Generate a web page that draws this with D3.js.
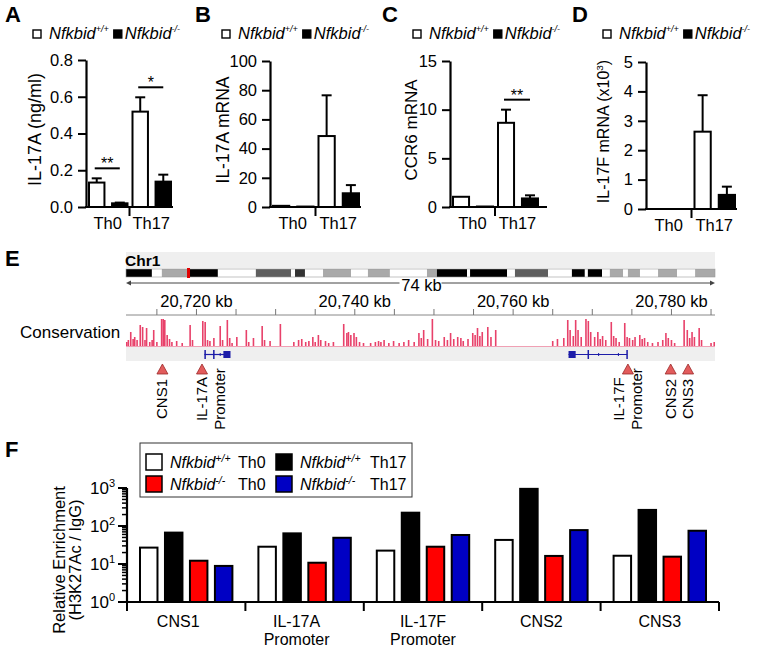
<!DOCTYPE html>
<html><head><meta charset="utf-8">
<script src="https://cdn.jsdelivr.net/npm/d3@7"></script>
<style>
body{margin:0;background:#fff;}
svg text{font-family:"Liberation Sans",Arial,Helvetica,sans-serif;fill:#000;}
</style></head><body>
<svg id="c" width="761" height="650"></svg>
<script>
// ================= DATA =================
const groups = ["Th0", "Th17"];
const genotypes = ["+/+", "-/-"];

// Panel A: IL-17A protein (ng/ml)
const aWT = [0.133, 0.519], aWTErr = [0.156, 0.597];
const aKO = [0.020, 0.138], aKOErr = [0.024, 0.176];
const aSig = ["**", "*"];
const aTicks = [0, 0.2, 0.4, 0.6, 0.8];
// Panel B: IL-17A mRNA
const bWT = [0.8, 48.6], bWTErr = [0.8, 76.5];
const bKO = [0.3, 9.4], bKOErr = [0.3, 15.0];
const bSig = ["", ""];
const bTicks = [0, 20, 40, 60, 80, 100];
// Panel C: CCR6 mRNA
const cWT = [1.05, 8.65], cWTErr = [1.05, 10.0];
const cKO = [0.05, 0.88], cKOErr = [0.05, 1.2];
const cSig = ["", "**"];
const cTicks = [0, 5, 10, 15];
// Panel D: IL-17F mRNA (x10^3)
const dWT = [0, 2.63], dWTErr = [0, 3.87];
const dKO = [0, 0.48], dKOErr = [0, 0.76];
const dSig = ["", ""];
const dTicks = [0, 1, 2, 3, 4, 5];

// Panel E: chromosome 1 ideogram (Mb) and locus track (kb)
const chrLenMb = 195.5;
const bandStartMb = [0, 8.6, 11.9, 20.9, 30.5, 43.1, 54.8, 56.1, 59.4, 65.4, 74.7, 80.3, 87.6, 99.9, 103.2, 113.2, 114.2, 126.5, 129.1, 140.1, 148.0, 152.3, 153.3, 158.0, 160.6, 165.0, 166.6, 170.6, 176.6, 182.9, 188.9];
const bandStain = ["g100","n","g50","g100","n","g75","n","g90","n","g50","n","g50","n","g50","g100","n","g100","n","g75","n","g100","n","g100","n","g50","n","g50","n","g50","n","g50"];
const regionMb = [20.71, 20.79];
const locusKb = [20711.1, 20785.5];
const rulerLabelsKb = [20720, 20740, 20760, 20780];
const consKb = [20711.2,20711.4,20711.7,20712.0,20712.2,20712.5,20712.9,20713.2,20713.5,20713.7,20714.1,20714.4,20714.6,20715.0,20715.6,20715.8,20716.0,20716.3,20716.6,20716.9,20717.5,20718.2,20719.2,20719.5,20720.8,20721.1,20721.4,20721.7,20722.2,20723.0,20723.3,20723.9,20724.2,20724.5,20725.1,20726.3,20726.6,20727.2,20728.3,20728.6,20729.3,20730.6,20732.3,20732.9,20733.3,20733.8,20734.2,20734.7,20735.0,20735.4,20735.7,20736.3,20736.7,20737.3,20738.6,20739.0,20739.2,20739.5,20739.9,20740.2,20740.6,20741.1,20742.0,20742.6,20743.0,20743.3,20743.7,20744.3,20744.9,20745.6,20746.2,20746.8,20747.5,20748.1,20748.4,20748.7,20749.2,20749.8,20750.2,20750.6,20751.3,20751.7,20752.1,20752.5,20753.0,20753.4,20753.7,20754.3,20754.9,20755.2,20755.5,20755.8,20756.1,20756.8,20757.2,20757.8,20765.0,20765.6,20766.4,20766.9,20767.2,20767.6,20767.9,20768.2,20768.6,20769.2,20769.5,20769.8,20770.3,20770.7,20771.0,20771.3,20771.7,20772.4,20772.7,20773.0,20773.4,20774.1,20774.4,20774.7,20775.1,20775.4,20776.0,20776.3,20776.6,20777.0,20777.6,20778.3,20778.9,20779.3,20779.6,20780.0,20780.4,20781.6,20782.0,20782.3,20782.6,20782.9,20783.5,20783.8,20785.0,20785.4];
const consScore = [4,6,14,7,9,6,21,19,6,18,4,6,16,4,27,27,26,11,7,4,5,3,21,6,25,24,6,5,8,20,6,26,8,3,9,16,4,8,20,6,5,22,4,6,7,4,5,9,4,11,6,5,3,4,22,13,14,11,13,9,4,3,3,4,5,4,6,3,5,3,4,6,4,13,8,16,7,27,6,5,9,6,13,7,9,8,5,7,13,11,18,10,14,19,9,16,5,7,8,26,16,10,26,16,9,27,25,14,9,14,7,10,6,24,10,8,4,23,9,8,6,9,11,7,8,4,3,4,6,13,8,6,3,26,16,8,14,9,18,6,3,4];
const consMax = 28;
const geneNames = ["Il17a", "Il17f"];
const geneSpanKb = [[20721.0, 20724.2], [20767.0, 20774.4]];
const geneExonsKb = [
  [[20721.0, 20721.15], [20722.1, 20722.25], [20723.4, 20724.3]],
  [[20767.0, 20767.9], [20769.4, 20769.55], [20774.3, 20774.45]]
];
const geneChevronKb = [[20723.0], [20770.8, 20773.3]];
const siteKb = [20715.7, 20720.7, 20774.5, 20779.9, 20782.1];
const siteLabels = [["CNS1"], ["IL-17A", "Promoter"], ["IL-17F", "Promoter"], ["CNS2"], ["CNS3"]];

// Panel F: H3K27Ac ChIP relative enrichment
const fCats = [["CNS1"], ["IL-17A", "Promoter"], ["IL-17F", "Promoter"], ["CNS2"], ["CNS3"]];
const fSeries = ["WT Th0", "WT Th17", "KO Th0", "KO Th17"];
const fWTTh0  = [27, 28.5, 22.5, 43, 16.5];
const fWTTh17 = [67, 64, 224, 950, 265];
const fKOTh0  = [12.2, 10.8, 28.5, 16.3, 15.6];
const fKOTh17 = [8.9, 49, 58, 78, 75];
const fColors = ["#ffffff", "#000000", "#ff0000", "#0000c4"];
const fLegendGeno = ["+/+", "+/+", "-/-", "-/-"];
const fLegendCell = ["Th0", "Th17", "Th0", "Th17"];

// ================= DRAW =================
const svg = d3.select("#c");

function letter(t, x, y) {
  svg.append("text").attr("x", x).attr("y", y).attr("font-size", 22)
    .attr("font-weight", "bold").text(t);
}

function genoText(sel, x, y, geno, fs, supFs) {
  const t = sel.append("text").attr("x", x).attr("y", y).attr("font-size", fs).attr("font-style", "italic");
  t.append("tspan").text("Nfkbid");
  t.append("tspan").attr("font-size", supFs).attr("dy", -fs * 0.38).text(geno);
  return t;
}

function smallPanel(o) {
  letter(o.letter, o.lx, 22);
  const g = svg.append("g");
  g.append("rect").attr("x", o.legX).attr("y", 30).attr("width", 8).attr("height", 8)
    .attr("fill", "#fff").attr("stroke", "#000").attr("stroke-width", 1.4);
  const t1 = genoText(g, o.legX + 16, 38.5, "+/+", 16.5, 9);
  const w1 = t1.node().getComputedTextLength();
  const bx = o.legX + 16 + w1 + 5;
  g.append("rect").attr("x", bx).attr("y", 30).attr("width", 8).attr("height", 8)
    .attr("fill", "#000").attr("stroke", "#000").attr("stroke-width", 1.4);
  genoText(g, bx + 11, 38.5, "-/-", 16.5, 9);

  const y = d3.scaleLinear().domain([0, o.max]).range([o.yBot, o.yTop]);
  const x0 = d3.scaleBand().domain(groups).range([o.x0, o.x1]);
  const x1 = d3.scaleBand().domain(genotypes).range([3, x0.bandwidth() - 2]).paddingInner(0.33);

  const rows = groups.map((gr, i) => ({
    g: gr, sig: o.sig[i],
    bars: [{k: "+/+", v: o.wt[i], e: o.wtErr[i], fill: "#fff"},
           {k: "-/-", v: o.ko[i], e: o.koErr[i], fill: "#000"}]
  }));
  const gg = g.selectAll("g.grp").data(rows).join("g").attr("transform", d => `translate(${x0(d.g)},0)`);
  gg.selectAll("rect").data(d => d.bars).join("rect")
    .attr("x", d => x1(d.k)).attr("width", x1.bandwidth())
    .attr("y", d => y(d.v)).attr("height", d => o.yBot - y(d.v))
    .attr("fill", d => d.fill).attr("stroke", "#000").attr("stroke-width", 2);
  gg.each(function(d) {
    const s = d3.select(this);
    d.bars.forEach(b => {
      if (b.e > b.v) {
        const cx = x1(b.k) + x1.bandwidth() / 2;
        s.append("line").attr("x1", cx).attr("x2", cx).attr("y1", y(b.v)).attr("y2", y(b.e))
          .attr("stroke", "#000").attr("stroke-width", 2);
        s.append("line").attr("x1", cx - 5).attr("x2", cx + 5).attr("y1", y(b.e)).attr("y2", y(b.e))
          .attr("stroke", "#000").attr("stroke-width", 2);
      }
    });
    if (d.sig) {
      const ly = y(d3.max(d.bars, b => b.e)) - 10;
      const xa = x1("+/+") + x1.bandwidth() / 2 - 2, xb = x1("-/-") + x1.bandwidth() / 2;
      s.append("line").attr("x1", xa).attr("x2", xb).attr("y1", ly).attr("y2", ly)
        .attr("stroke", "#000").attr("stroke-width", 2);
      s.append("text").attr("x", (xa + xb) / 2).attr("y", ly + 1).attr("text-anchor", "middle")
        .attr("font-size", 16).text(d.sig);
    }
  });
  const ya = g.append("g").attr("transform", `translate(${o.x0},0)`)
    .call(d3.axisLeft(y).tickValues(o.ticks).tickFormat(o.fmt).tickSize(8).tickSizeOuter(0).tickPadding(5));
  ya.select(".domain").attr("stroke-width", 2.2);
  ya.selectAll(".tick line").attr("stroke-width", 2);
  ya.selectAll(".tick text").attr("font-size", 16.5).attr("font-family", null);
  g.append("line").attr("x1", o.x0 - 1).attr("x2", o.axEnd).attr("y1", o.yBot).attr("y2", o.yBot)
    .attr("stroke", "#000").attr("stroke-width", 2.2);
  g.append("line").attr("x1", x0("Th17")).attr("x2", x0("Th17")).attr("y1", o.yBot).attr("y2", o.yBot + 9)
    .attr("stroke", "#000").attr("stroke-width", 2);
  g.selectAll("text.xl").data(groups).join("text").attr("class", "xl")
    .attr("x", d => x0(d) + x0.bandwidth() / 2).attr("y", o.yBot + 22)
    .attr("text-anchor", "middle").attr("font-size", 16.5).text(d => d);
  const yl = g.append("text").attr("transform", `translate(${o.ylabX},${(o.yTop + o.yBot) / 2 - 4}) rotate(-90)`)
    .attr("text-anchor", "middle").attr("font-size", o.ylabFs);
  yl.append("tspan").text(o.ylab);
  if (o.ylabSup) {
    yl.append("tspan").attr("font-size", o.ylabFs * 0.62).attr("dy", -o.ylabFs * 0.4).text(o.ylabSup);
    yl.append("tspan").attr("dy", o.ylabFs * 0.4).text(")");
  }
}

smallPanel({letter: "A", lx: 5, wt: aWT, wtErr: aWTErr, ko: aKO, koErr: aKOErr, sig: aSig, ticks: aTicks,
  fmt: d3.format(".1f"), max: 0.8, x0: 86, x1: 173, axEnd: 173, yTop: 60, yBot: 207, legX: 33,
  ylab: "IL-17A (ng/ml)", ylabX: 41, ylabFs: 18});
smallPanel({letter: "B", lx: 195, wt: bWT, wtErr: bWTErr, ko: bKO, koErr: bKOErr, sig: bSig, ticks: bTicks,
  fmt: d3.format("d"), max: 100, x0: 270, x1: 361, axEnd: 361, yTop: 61, yBot: 207, legX: 222,
  ylab: "IL-17A mRNA", ylabX: 229, ylabFs: 17.5});
smallPanel({letter: "C", lx: 382, wt: cWT, wtErr: cWTErr, ko: cKO, koErr: cKOErr, sig: cSig, ticks: cTicks,
  fmt: d3.format("d"), max: 15, x0: 450, x1: 540, axEnd: 547, yTop: 61, yBot: 207, legX: 413,
  ylab: "CCR6 mRNA", ylabX: 417, ylabFs: 17});
smallPanel({letter: "D", lx: 572, wt: dWT, wtErr: dWTErr, ko: dKO, koErr: dKOErr, sig: dSig, ticks: dTicks,
  fmt: d3.format("d"), max: 5, x0: 646, x1: 737, axEnd: 737, yTop: 62, yBot: 209, legX: 603,
  ylab: "IL-17F mRNA (x10", ylabSup: "3", ylabX: 609, ylabFs: 16});

// ---------- Panel E ----------
letter("E", 5, 266);
const E = svg.append("g");
const eL = 126, eR = 715;
E.append("rect").attr("x", eL).attr("y", 252).attr("width", eR - eL).attr("height", 16).attr("fill", "#efefef");
E.append("text").attr("x", 125).attr("y", 266).attr("font-size", 15.5).attr("font-weight", "bold").text("Chr1");
const xMb = d3.scaleLinear().domain([0, chrLenMb]).range([eL, eR]);
const stainColor = {g100: "#000", g90: "#333", g75: "#5e5e5e", g50: "#a9a9a9", n: "#fff"};
const bands = bandStartMb.map((s, i) => ({s, e: i < bandStartMb.length - 1 ? bandStartMb[i + 1] : chrLenMb, st: bandStain[i]}));
E.selectAll("rect.band").data(bands).join("rect").attr("class", "band")
  .attr("x", d => xMb(d.s)).attr("width", d => xMb(d.e) - xMb(d.s))
  .attr("y", 269).attr("height", 8).attr("fill", d => stainColor[d.st]);
E.append("rect").attr("x", eL).attr("y", 269).attr("width", eR - eL).attr("height", 8)
  .attr("fill", "none").attr("stroke", "#999").attr("stroke-width", 0.6);
const rm = (xMb(regionMb[0]) + xMb(regionMb[1])) / 2;
E.append("rect").attr("x", rm - 1.5).attr("width", 3).attr("y", 268).attr("height", 10).attr("fill", "#e00000");

const xKb = d3.scaleLinear().domain(locusKb).range([eL, eR]);
const ry = 283;
E.append("line").attr("x1", eL + 2).attr("x2", eR - 2).attr("y1", ry).attr("y2", ry).attr("stroke", "#444").attr("stroke-width", 1);
E.append("path").attr("d", `M${eL},${ry} l5,-2.5 v5 z`).attr("fill", "#444");
E.append("path").attr("d", `M${eR},${ry} l-5,-2.5 v5 z`).attr("fill", "#444");
const spanTxt = Math.floor(locusKb[1] - locusKb[0]) + " kb";
const mid = (eL + eR) / 2;
E.append("rect").attr("x", mid - 21).attr("y", ry - 3).attr("width", 42).attr("height", 6).attr("fill", "#fff");
E.append("text").attr("x", mid + 1).attr("y", ry + 8).attr("text-anchor", "middle").attr("font-size", 16.5).text(spanTxt);
const tickKb = d3.range(20715, locusKb[1], 5);
E.append("line").attr("x1", eL).attr("x2", eR).attr("y1", 315).attr("y2", 315).attr("stroke", "#888").attr("stroke-width", 1);
E.selectAll("line.rt").data(tickKb).join("line").attr("class", "rt")
  .attr("x1", d => xKb(d)).attr("x2", d => xKb(d)).attr("y1", 315).attr("y2", 309)
  .attr("stroke", "#777").attr("stroke-width", 1);
E.selectAll("text.rl").data(rulerLabelsKb).join("text").attr("class", "rl")
  .attr("x", d => xKb(d)).attr("y", 307).attr("text-anchor", "middle").attr("font-size", 16.5)
  .text(d => d3.format(",")(d) + " kb");

E.append("text").attr("x", 20).attr("y", 338).attr("font-size", 17).text("Conservation");
const cBase = 346;
const yCons = d3.scaleLinear().domain([0, consMax]).range([0, 28]);
E.append("line").attr("x1", eL).attr("x2", eR).attr("y1", cBase + 0.5).attr("y2", cBase + 0.5).attr("stroke", "#f0a0b4").attr("stroke-width", 1);
E.selectAll("rect.cons").data(consKb.map((k, i) => ({k, s: consScore[i]}))).join("rect").attr("class", "cons")
  .attr("x", d => xKb(d.k) - 0.8).attr("width", 1.6)
  .attr("y", d => cBase - yCons(d.s)).attr("height", d => yCons(d.s)).attr("fill", "#e8416a");

E.append("rect").attr("x", eL).attr("y", 347).attr("width", eR - eL).attr("height", 14).attr("fill", "#efefef");
const gy = 354.5, geneCol = "#1c1ca8";
geneNames.forEach((n, i) => {
  E.append("line").attr("x1", xKb(geneSpanKb[i][0])).attr("x2", xKb(geneSpanKb[i][1])).attr("y1", gy).attr("y2", gy)
    .attr("stroke", geneCol).attr("stroke-width", 1.2);
  geneExonsKb[i].forEach(ex => {
    const w = Math.max(1.5, xKb(ex[1]) - xKb(ex[0]));
    const h = w > 3 ? 7 : 9;
    E.append("rect").attr("x", xKb(ex[0])).attr("width", w).attr("y", gy - h / 2).attr("height", h).attr("fill", geneCol);
  });
  geneChevronKb[i].forEach(c => {
    E.append("line").attr("x1", xKb(c)).attr("x2", xKb(c)).attr("y1", gy - 1.5).attr("y2", gy + 1.5)
      .attr("stroke", geneCol).attr("stroke-width", 1);
  });
});

siteKb.forEach((k, i) => {
  const x = xKb(k);
  E.append("path").attr("d", `M${x},364 L${x + 5.5},374 L${x - 5.5},374 Z`)
    .attr("fill", "#e25c5c").attr("stroke", "#9a2a2a").attr("stroke-width", 0.8);
  const lines = siteLabels[i];
  const offs = lines.length === 1 ? [0] : (i === 1 ? [0, 18] : [-9, 9]);
  lines.forEach((ln, j) => {
    E.append("text").attr("transform", `translate(${x + offs[j] + 5},399) rotate(-90)`)
      .attr("text-anchor", "middle").attr("font-size", 15).text(ln);
  });
});

// ---------- Panel F ----------
letter("F", 5, 457);
const F = svg.append("g");
const fx0 = 127, fx1 = 719, fyTop = 488, fyBot = 602;
const yF = d3.scaleLog().domain([1, 1000]).range([fyBot, fyTop]);
const xF = d3.scaleBand().domain(d3.range(fCats.length)).range([fx0, fx1]);
const xFi = d3.scaleBand().domain(fSeries).range([13, xF.bandwidth() - 13]).paddingInner(0.3);
const fVals = [fWTTh0, fWTTh17, fKOTh0, fKOTh17];
const fRows = fCats.map((c, i) => ({i, bars: fSeries.map((s, j) => ({s, v: fVals[j][i], col: fColors[j]}))}));
const fg = F.selectAll("g.fg").data(fRows).join("g").attr("transform", d => `translate(${xF(d.i)},0)`);
fg.selectAll("rect").data(d => d.bars).join("rect")
  .attr("x", d => xFi(d.s)).attr("width", xFi.bandwidth())
  .attr("y", d => yF(d.v)).attr("height", d => fyBot - yF(d.v))
  .attr("fill", d => d.col).attr("stroke", "#000").attr("stroke-width", 2);
F.append("line").attr("x1", fx0).attr("x2", fx0).attr("y1", fyTop).attr("y2", fyBot + 1).attr("stroke", "#000").attr("stroke-width", 2.2);
const minor = [];
[1, 10, 100].forEach(dec => d3.range(2, 10).forEach(m => minor.push(dec * m)));
F.selectAll("line.mn").data(minor).join("line").attr("class", "mn")
  .attr("x1", fx0 - 5).attr("x2", fx0).attr("y1", d => yF(d)).attr("y2", d => yF(d))
  .attr("stroke", "#000").attr("stroke-width", 1.5);
const major = [1, 10, 100, 1000];
F.selectAll("line.mj").data(major).join("line").attr("class", "mj")
  .attr("x1", fx0 - 9).attr("x2", fx0).attr("y1", d => yF(d)).attr("y2", d => yF(d))
  .attr("stroke", "#000").attr("stroke-width", 2);
major.forEach(v => {
  const t = F.append("text").attr("x", fx0 - 12).attr("y", yF(v) + 6).attr("text-anchor", "end").attr("font-size", 17);
  t.append("tspan").text("10");
  t.append("tspan").attr("font-size", 11).attr("dy", -7).text(String(Math.round(Math.log10(v))));
});
F.append("line").attr("x1", fx0 - 1).attr("x2", fx1).attr("y1", fyBot).attr("y2", fyBot).attr("stroke", "#000").attr("stroke-width", 2.2);
const bounds = d3.range(fCats.length).map(i => xF(i)).concat([fx1]);
F.selectAll("line.xt").data(bounds).join("line").attr("class", "xt")
  .attr("x1", d => d).attr("x2", d => d).attr("y1", fyBot).attr("y2", fyBot + 9)
  .attr("stroke", "#000").attr("stroke-width", 2);
fCats.forEach((lines, i) => {
  lines.forEach((ln, j) => {
    F.append("text").attr("x", xF(i) + xF.bandwidth() / 2 - (i < 2 ? 8 : 0)).attr("y", 627 + j * 18)
      .attr("text-anchor", "middle").attr("font-size", 16).text(ln);
  });
});
const fyl = F.append("g").attr("transform", `translate(0,${560}) rotate(-90)`);
fyl.append("text").attr("x", 0).attr("y", 65).attr("text-anchor", "middle").attr("font-size", 16.5).text("Relative Enrichment");
fyl.append("text").attr("x", 0).attr("y", 81).attr("text-anchor", "middle").attr("font-size", 16.5).text("(H3K27Ac / IgG)");
F.append("rect").attr("x", 140).attr("y", 443).attr("width", 272).attr("height", 54)
  .attr("fill", "#fff").attr("stroke", "#333").attr("stroke-width", 1);
fSeries.forEach((s, j) => {
  const col = j % 2, row = Math.floor(j / 2);
  const lx = 146 + col * 130, ly = 454 + row * 22;
  F.append("rect").attr("x", lx).attr("y", ly).attr("width", 16).attr("height", 16)
    .attr("fill", fColors[j]).attr("stroke", "#000").attr("stroke-width", 1.5);
  genoText(F, lx + 24, ly + 14, fLegendGeno[j], 16, 10.5);
  F.append("text").attr("x", lx + 92 + (col ? 2 : 0)).attr("y", ly + 14).attr("font-size", 16).text(fLegendCell[j]);
});
</script>
</body></html>
